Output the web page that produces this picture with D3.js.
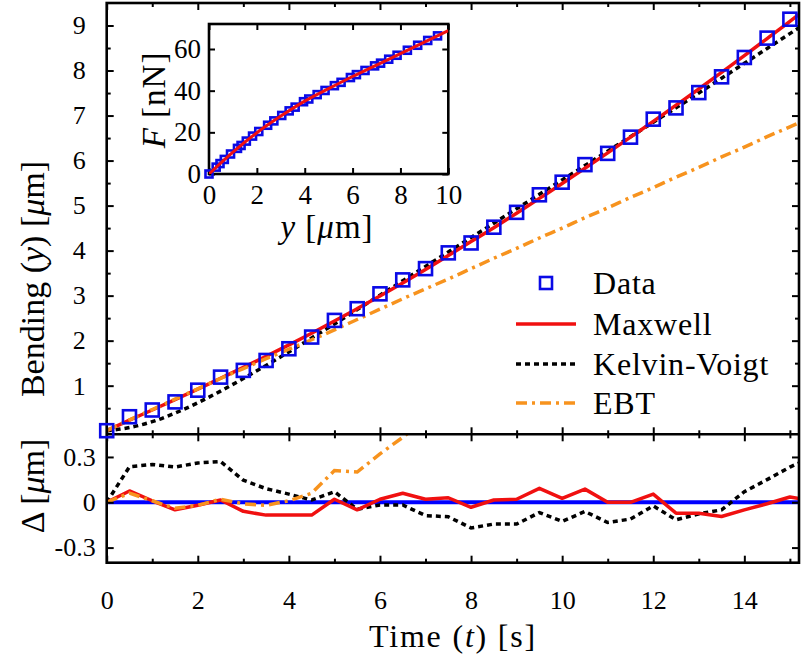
<!DOCTYPE html>
<html><head><meta charset="utf-8">
<script src="https://cdn.jsdelivr.net/npm/d3@7"></script>
<style>body{margin:0;background:#fff} svg{display:block}</style>
</head><body><svg id="c" width="804" height="656"></svg>
<script>
// ---------- data ----------
const times = [0,0.5,1,1.5,2,2.5,3,3.5,4,4.5,5,5.5,6,6.5,7,7.5,8,8.5,9,9.5,10,10.5,11,11.5,12,12.5,13,13.5,14,14.5,15];
const bending = [0,0.31,0.46,0.64,0.90,1.19,1.34,1.56,1.82,2.08,2.45,2.71,3.04,3.35,3.60,3.95,4.17,4.52,4.85,5.24,5.52,5.91,6.16,6.52,6.92,7.17,7.51,7.86,8.29,8.72,9.14];
const fitTimes = [0,0.5,1,1.5,2,2.5,3,3.5,4,4.5,5,5.5,6,6.5,7,7.5,8,8.5,9,9.5,10,10.5,11,11.5,12,12.5,13,13.5,14,14.5,15,15.2];
const maxwell = [0,0.235,0.46,0.69,0.925,1.165,1.405,1.65,1.905,2.165,2.435,2.71,2.99,3.28,3.58,3.89,4.2,4.51,4.83,5.16,5.49,5.83,6.17,6.52,6.87,7.23,7.59,7.96,8.33,8.71,9.09,9.25];
const kelvinVoigt = [0,0.07,0.2,0.39,0.62,0.88,1.16,1.45,1.75,2.06,2.37,2.69,3.01,3.33,3.65,3.97,4.29,4.61,4.93,5.25,5.57,5.89,6.21,6.53,6.85,7.17,7.5,7.83,8.16,8.49,8.82,8.95];
const ebt = [0,0.24,0.47,0.7,0.93,1.16,1.38,1.6,1.81,2.02,2.24,2.47,2.7,2.93,3.15,3.37,3.6,3.83,4.05,4.28,4.5,4.73,4.95,5.18,5.4,5.63,5.85,6.08,6.3,6.53,6.75,6.84];

const residMaxwell = [0,0.075,0.01,-0.05,-0.02,0.015,-0.06,-0.085,-0.085,-0.085,0.02,-0.05,0.02,0.06,0.02,0.03,-0.033,0.015,0.02,0.092,0.026,0.087,0,0,0.054,-0.072,-0.072,-0.094,-0.05,-0.01,0.035,0.025];
const residKV = [0,0.235,0.25,0.233,0.26,0.27,0.146,0.09,0.054,0.015,0.07,-0.046,-0.018,-0.018,-0.088,-0.096,-0.17,-0.144,-0.144,-0.068,-0.127,-0.061,-0.134,-0.111,-0.024,-0.116,-0.077,-0.05,0.07,0.15,0.233,0.26];
const residEBTTimes = [0,0.5,1,1.5,2,2.5,3,3.5,4,4.5,5,5.5,6,6.5,7];
const residEBT = [0,0.06,0.01,-0.04,-0.02,0.02,-0.01,-0.02,0.01,0.06,0.21,0.2,0.32,0.43,0.55];

const insetDefl = [0,0.3,0.46,0.64,0.9,1.19,1.34,1.56,1.82,2.08,2.45,2.71,3.04,3.35,3.6,3.95,4.17,4.52,4.85,5.24,5.52,5.91,6.16,6.52,6.92,7.17,7.51,7.86,8.29,8.72,9.14,9.55];
const insetForce = [0,3.3,5,7,9.6,12.3,13.7,15.8,18.2,20.4,23.4,25.5,28.1,30.3,32.1,34.7,36,38.1,40.1,42.4,44,46.3,47.7,49.7,51.9,53.2,55.1,57,59.4,61.8,64.1,66.3];
const insetFitDefl = [0,1,2,3,4,5,6,7,8,9,10];
const insetFitForce = [0,10.5,19.8,27.8,35,41,46.8,52.3,57.8,63.3,68.8];

const timeTicks = [0,2,4,6,8,10,12,14];
const timeMinorTicks = [1,3,5,7,9,11,13,15];
const bendTicks = [1,2,3,4,5,6,7,8,9];
const bendMinorTicks = [0.5,1.5,2.5,3.5,4.5,5.5,6.5,7.5,8.5];
const residTicks = [-0.3,0,0.3];
const residTickLabels = ["-0.3","0","0.3"];
const insetXTicks = [0,2,4,6,8,10];
const insetYTicks = [0,20,40,60];
const legendLabels = ["Data","Maxwell","Kelvin-Voigt","EBT"];

// ---------- styles ----------
const FONT = "Liberation Serif, DejaVu Serif, serif";
const BLUE = "#0a0ae6", RED = "#f01010", ORANGE = "#f7931e";

const svg = d3.select("#c");
const L = 106.7, R = 799, T = 3, MB = 434.3, RB = 562.7;

const x = d3.scaleLinear().domain([0, 15.2]).range([L, R]);
const y = d3.scaleLinear().domain([-0.08, 9.5]).range([MB, T]);
const yr = d3.scaleLinear().domain([-0.4, 0.45]).range([RB, MB]);

const defs = svg.append("defs");
defs.append("clipPath").attr("id","cm").append("rect").attr("x",L).attr("y",T).attr("width",R-L).attr("height",MB-T);
defs.append("clipPath").attr("id","cr").append("rect").attr("x",L).attr("y",MB).attr("width",R-L).attr("height",RB-MB);

function styleAxis(g, size){
  g.select(".domain").remove();
  g.attr("font-family",FONT);
  g.selectAll(".tick line").attr("stroke","#000").attr("stroke-width",2);
  g.selectAll("text").attr("font-family",FONT).attr("font-size",size).attr("fill","#000");
}

// ---------- main panel ----------
const main = svg.append("g").attr("clip-path","url(#cm)");
const lineMain = (arr)=> d3.line().x((d)=>x(d)).y((d,i)=>y(arr[i])).curve(d3.curveMonotoneX)(fitTimes);
main.append("path").attr("d",lineMain(kelvinVoigt)).attr("fill","none").attr("stroke","#000").attr("stroke-width",3.5).attr("stroke-dasharray","5,4");
main.append("path").attr("d",lineMain(maxwell)).attr("fill","none").attr("stroke",RED).attr("stroke-width",3.5);
main.append("path").attr("d",lineMain(ebt)).attr("fill","none").attr("stroke",ORANGE).attr("stroke-width",3.5).attr("stroke-dasharray","11,5,3,5");

// ---------- residual panel ----------
const res = svg.append("g").attr("clip-path","url(#cr)");
res.append("line").attr("x1",L).attr("x2",R).attr("y1",yr(0)).attr("y2",yr(0)).attr("stroke","#0000ff").attr("stroke-width",4);
const lineRes = (tArr, arr)=> d3.line().x((d)=>x(d)).y((d,i)=>yr(arr[i]))(tArr);
res.append("path").attr("d",lineRes(fitTimes,residKV)).attr("fill","none").attr("stroke","#000").attr("stroke-width",3.5).attr("stroke-dasharray","5,4");
res.append("path").attr("d",lineRes(fitTimes,residMaxwell)).attr("fill","none").attr("stroke",RED).attr("stroke-width",3.5).attr("stroke-linejoin","round");
res.append("path").attr("d",lineRes(residEBTTimes,residEBT)).attr("fill","none").attr("stroke",ORANGE).attr("stroke-width",3.5).attr("stroke-dasharray","11,5,3,5");

// ---------- axes ----------
[[MB,-1],[T,1]].forEach(([yy,dir])=>{
  svg.append("g").attr("transform",`translate(0,${yy})`).call((dir<0?d3.axisBottom(x):d3.axisTop(x)).tickValues(timeTicks).tickSize(-7).tickFormat("")).call(styleAxis,26);
  svg.append("g").attr("transform",`translate(0,${yy})`).call((dir<0?d3.axisBottom(x):d3.axisTop(x)).tickValues(timeMinorTicks).tickSize(-4).tickFormat("")).call(styleAxis,26);
});
svg.append("g").attr("transform",`translate(0,${MB})`).call(d3.axisTop(x).tickValues(timeTicks).tickSize(-7).tickFormat("")).call(styleAxis,26);
svg.append("g").attr("transform",`translate(0,${MB})`).call(d3.axisTop(x).tickValues(timeMinorTicks).tickSize(-4).tickFormat("")).call(styleAxis,26);
svg.append("g").attr("transform",`translate(0,${RB})`).call(d3.axisBottom(x).tickValues(timeTicks).tickSize(-7).tickPadding(28).tickFormat(d3.format("d"))).call(styleAxis,26);
svg.append("g").attr("transform",`translate(0,${RB})`).call(d3.axisBottom(x).tickValues(timeMinorTicks).tickSize(-4).tickFormat("")).call(styleAxis,26);

svg.append("g").attr("transform",`translate(${L},0)`).call(d3.axisLeft(y).tickValues(bendTicks).tickSize(-7).tickPadding(21).tickFormat(d3.format("d"))).call(styleAxis,26);
svg.append("g").attr("transform",`translate(${L},0)`).call(d3.axisLeft(y).tickValues(bendMinorTicks).tickSize(-4).tickFormat("")).call(styleAxis,26);
svg.append("g").attr("transform",`translate(${R},0)`).call(d3.axisRight(y).tickValues(bendTicks).tickSize(-7).tickFormat("")).call(styleAxis,26);
svg.append("g").attr("transform",`translate(${R},0)`).call(d3.axisRight(y).tickValues(bendMinorTicks).tickSize(-4).tickFormat("")).call(styleAxis,26);
svg.append("g").attr("transform",`translate(${L},0)`).call(d3.axisLeft(yr).tickValues(residTicks).tickSize(-7).tickPadding(11).tickFormat((d,i)=>residTickLabels[i])).call(styleAxis,26);
svg.append("g").attr("transform",`translate(${R},0)`).call(d3.axisRight(yr).tickValues(residTicks).tickSize(-7).tickFormat("")).call(styleAxis,26);

svg.append("rect").attr("x",L).attr("y",T).attr("width",R-L).attr("height",RB-T).attr("fill","none").attr("stroke","#000").attr("stroke-width",2.6);
svg.append("line").attr("x1",L).attr("x2",R).attr("y1",MB).attr("y2",MB).attr("stroke","#000").attr("stroke-width",2.6);

// data squares
svg.append("g").selectAll("rect").data(times).join("rect")
  .attr("x",(d)=>x(d)-6.5).attr("y",(d,i)=>y(bending[i])-6.5).attr("width",13).attr("height",13)
  .attr("fill","none").attr("stroke",BLUE).attr("stroke-width",2.6);

// ---------- axis titles ----------
function richText(g, parts){
  parts.forEach(([s,it])=>{ g.append("tspan").text(s).attr("font-style",it?"italic":"normal"); });
}
const yt = svg.append("text").attr("transform","translate(44,279) rotate(-90)").attr("text-anchor","middle")
  .attr("font-family",FONT).attr("font-size",34);
richText(yt, [["Bending (",0],["y",1],[") [",0],["\u03bc",1],["m]",0]]);
const dt = svg.append("text").attr("transform","translate(44,486) rotate(-90)").attr("text-anchor","middle")
  .attr("font-family",FONT).attr("font-size",34);
richText(dt, [["\u0394 [",0],["\u03bc",1],["m]",0]]);
const tt = svg.append("text").attr("x",453).attr("y",647).attr("text-anchor","middle")
  .attr("font-family",FONT).attr("font-size",32).attr("letter-spacing",1.8);
richText(tt, [["Time (",0],["t",1],[") [s]",0]]);

// ---------- legend ----------
const lg = svg.append("g");
const rowY = [283,324,364,403];
lg.append("rect").attr("x",540).attr("y",rowY[0]-6).attr("width",12).attr("height",12).attr("fill","none").attr("stroke",BLUE).attr("stroke-width",2.6);
lg.append("line").attr("x1",516).attr("x2",576).attr("y1",rowY[1]).attr("y2",rowY[1]).attr("stroke",RED).attr("stroke-width",3.5);
lg.append("line").attr("x1",516).attr("x2",576).attr("y1",rowY[2]).attr("y2",rowY[2]).attr("stroke","#000").attr("stroke-width",3.5).attr("stroke-dasharray","5,4");
lg.append("line").attr("x1",516).attr("x2",576).attr("y1",rowY[3]).attr("y2",rowY[3]).attr("stroke",ORANGE).attr("stroke-width",3.5).attr("stroke-dasharray","11,5,3,5");
lg.selectAll("text").data(legendLabels).join("text")
  .attr("x",593).attr("y",(d,i)=>rowY[i]+11).attr("font-family",FONT).attr("font-size",32).attr("letter-spacing",0.8).text((d)=>d);

// ---------- inset ----------
const IL = 209, IR = 448.3, IT = 24, IB = 174;
const xi = d3.scaleLinear().domain([0,10]).range([IL,IR]);
const yi = d3.scaleLinear().domain([0,72]).range([IB,IT]);
defs.append("clipPath").attr("id","ci").append("rect").attr("x",IL).attr("y",IT).attr("width",IR-IL).attr("height",IB-IT);
svg.append("rect").attr("x",IL).attr("y",IT).attr("width",IR-IL).attr("height",IB-IT).attr("fill","#fff");
svg.append("g").attr("transform",`translate(0,${IB})`).call(d3.axisBottom(xi).tickValues(insetXTicks).tickSize(-6).tickPadding(11).tickFormat(d3.format("d"))).call(styleAxis,27);
svg.append("g").attr("transform",`translate(0,${IT})`).call(d3.axisTop(xi).tickValues(insetXTicks).tickSize(-6).tickFormat("")).call(styleAxis,27);
svg.append("g").attr("transform",`translate(${IL},0)`).call(d3.axisLeft(yi).tickValues(insetYTicks).tickSize(-6).tickPadding(8).tickFormat(d3.format("d"))).call(styleAxis,27);
svg.append("g").attr("transform",`translate(${IR},0)`).call(d3.axisRight(yi).tickValues(insetYTicks).tickSize(-6).tickFormat("")).call(styleAxis,27);
svg.append("rect").attr("x",IL).attr("y",IT).attr("width",IR-IL).attr("height",IB-IT).attr("fill","none").attr("stroke","#000").attr("stroke-width",2.6);
svg.append("g").selectAll("rect").data(insetDefl).join("rect")
  .attr("x",(d)=>xi(d)-3.5).attr("y",(d,i)=>yi(insetForce[i])-3.5).attr("width",7).attr("height",7)
  .attr("fill","none").attr("stroke",BLUE).attr("stroke-width",2.6);
const ig = svg.append("g").attr("clip-path","url(#ci)");
ig.append("path").attr("d", d3.line().x((d)=>xi(d)).y((d,i)=>yi(insetFitForce[i])).curve(d3.curveMonotoneX)(insetFitDefl))
  .attr("fill","none").attr("stroke",RED).attr("stroke-width",3);
const fy = svg.append("text").attr("transform","translate(165,100) rotate(-90)").attr("text-anchor","middle")
  .attr("font-family",FONT).attr("font-size",33).attr("letter-spacing",1);
richText(fy, [["F",1],[" [nN]",0]]);
const fx = svg.append("text").attr("x",327).attr("y",238).attr("text-anchor","middle")
  .attr("font-family",FONT).attr("font-size",33).attr("letter-spacing",1);
richText(fx, [["y",1],[" [",0],["\u03bc",1],["m]",0]]);
</script></body></html>
